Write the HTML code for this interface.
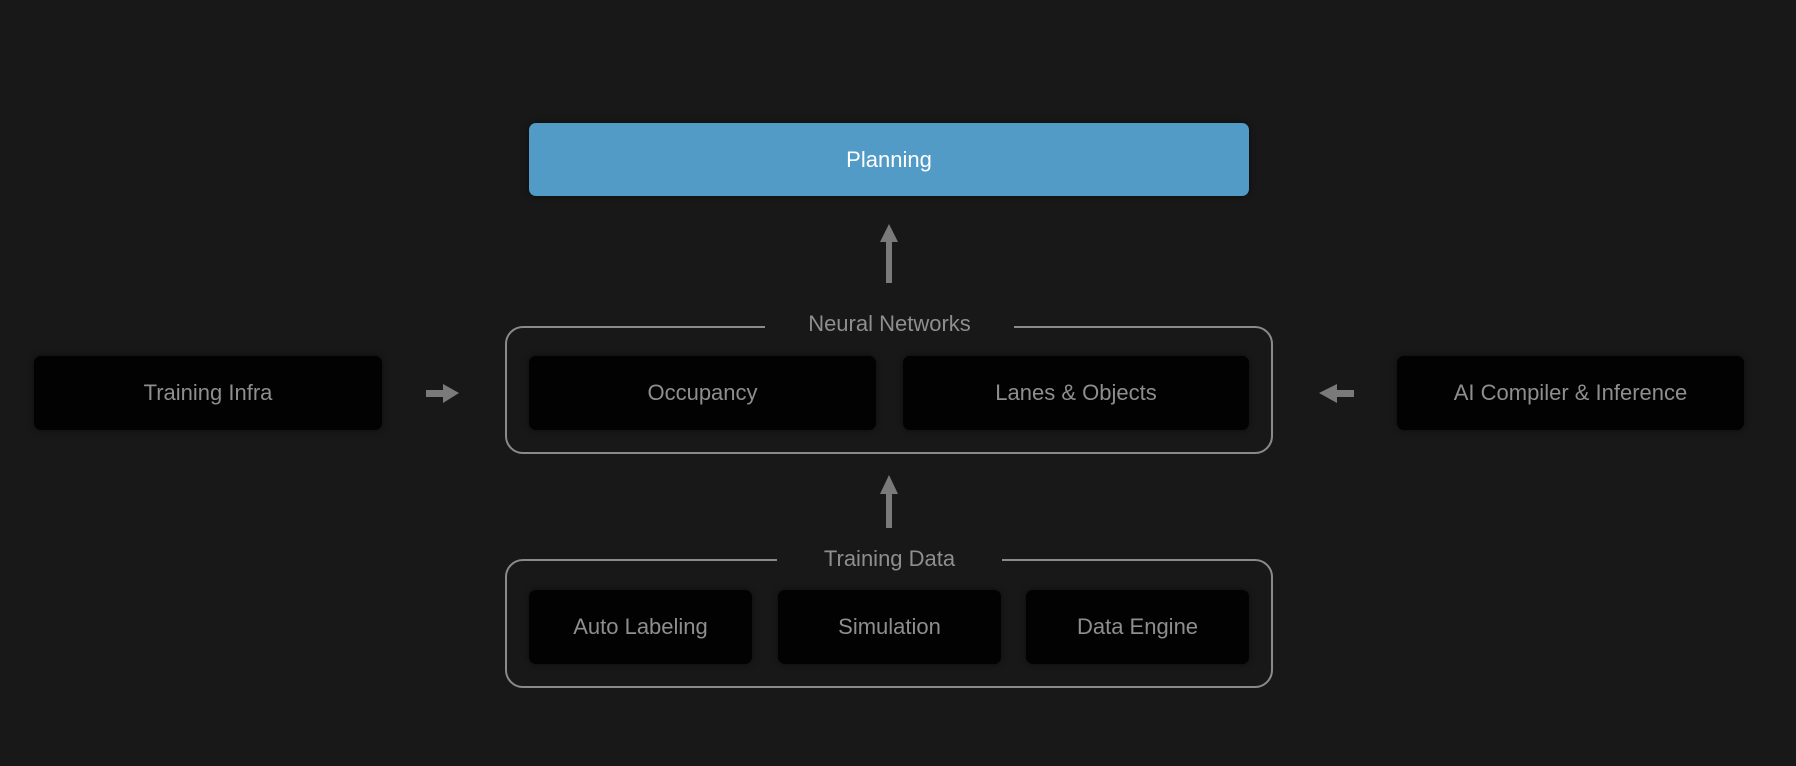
<!DOCTYPE html>
<html><head><meta charset="utf-8"><style>
body{margin:0;width:1796px;height:766px;background:#171817;overflow:hidden;font-family:"Liberation Sans",sans-serif;position:relative}
.b{position:absolute;background:#020202;border-radius:7px;color:#8e8e8e;font-size:22px;display:flex;align-items:center;justify-content:center;box-shadow:0 0 6px rgba(0,0,0,.5)}
.g{position:absolute;border:2.5px solid #8a8a8a;border-radius:18px;box-sizing:border-box}
.l{position:absolute;background:#171817;color:#8e8e8e;font-size:22px;text-align:center;line-height:26px}
</style></head><body>
<div class="b" style="left:529px;top:123px;width:720px;height:73px;background:#529bc6;color:#fff;font-size:22px">Planning</div>
<svg width="1796" height="766" style="position:absolute;left:0;top:0">
<g fill="#7a7a7a">
<rect x="886" y="240" width="6" height="43"/><polygon points="880,242 898,242 889,224"/>
<rect x="886" y="492" width="6" height="36"/><polygon points="880,494 898,494 889,475"/>
<rect x="426" y="390" width="18" height="7"/><polygon points="443,384 443,403 459,393"/>
<rect x="1336" y="390" width="18" height="7"/><polygon points="1337,384 1337,403 1319,393"/>
</g></svg>
<div class="g" style="left:505px;top:326px;width:768px;height:128px"></div>
<div class="l" style="left:765px;top:311px;width:249px">Neural Networks</div>
<div class="b" style="left:529px;top:356px;width:347px;height:74px">Occupancy</div>
<div class="b" style="left:903px;top:356px;width:346px;height:74px">Lanes &amp; Objects</div>
<div class="b" style="left:34px;top:356px;width:348px;height:74px">Training Infra</div>
<div class="b" style="left:1397px;top:356px;width:347px;height:74px">AI Compiler &amp; Inference</div>
<div class="g" style="left:505px;top:559px;width:768px;height:129px"></div>
<div class="l" style="left:777px;top:546px;width:225px">Training Data</div>
<div class="b" style="left:529px;top:590px;width:223px;height:74px">Auto Labeling</div>
<div class="b" style="left:778px;top:590px;width:223px;height:74px">Simulation</div>
<div class="b" style="left:1026px;top:590px;width:223px;height:74px">Data Engine</div>
</body></html>
